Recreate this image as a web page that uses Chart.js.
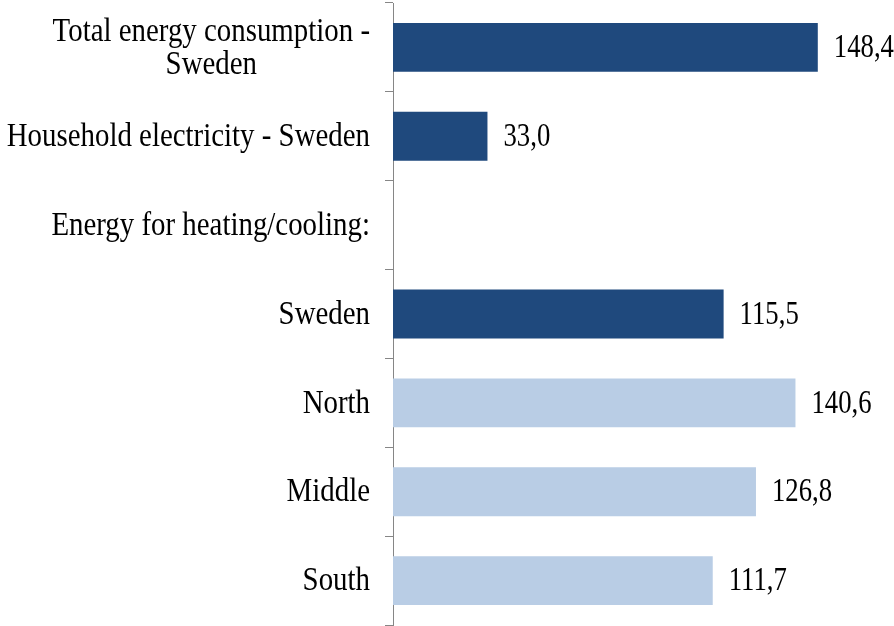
<!DOCTYPE html>
<html>
<head>
<meta charset="utf-8">
<script src="https://cdn.jsdelivr.net/npm/chart.js@4"></script>
<style>
  html, body { margin: 0; padding: 0; background: #fff; }
  canvas { display: block; }
</style>
</head>
<body>
<canvas id="energyChart" width="894" height="626"></canvas>
<script>
// data
var categories = [
    ["Total energy consumption -", "Sweden"],
    "Household electricity - Sweden",
    "Energy for heating/cooling:",
    "Sweden",
    "North",
    "Middle",
    "South"
];
var values = [148.4, 33.0, null, 115.5, 140.6, 126.8, 111.7];
var barColors = ["#1F497D", "#1F497D", "#1F497D", "#1F497D", "#B9CDE5", "#B9CDE5", "#B9CDE5"];

// the source text is a bit narrow and tall, so squeeze it sideways
var labelFont = '33px "Liberation Serif", "Times New Roman", serif';
var labelSqueeze = 0.875;
var valueSqueeze = 0.81;

function drawSqueezed(ctx, text, x, y, align, sx) {
    ctx.save();
    ctx.translate(x, y);
    ctx.scale(sx, 1);
    ctx.textAlign = align;
    ctx.fillText(text, 0, 0);
    ctx.restore();
}

// category labels: multi-line label centred, single lines right aligned
var categoryLabels = {
    id: 'categoryLabels',
    afterDraw: function (chart) {
        var ctx = chart.ctx;
        var scale = chart.scales.y;
        var right = scale.right - 23;
        var lineHeight = 33;
        ctx.save();
        ctx.font = labelFont;
        ctx.fillStyle = '#000';
        ctx.textBaseline = 'middle';
        for (var i = 0; i < categories.length; i++) {
            var y = scale.getPixelForValue(i) + 1;
            var lab = categories[i];
            if (Array.isArray(lab)) {
                var w = 0;
                for (var k = 0; k < lab.length; k++) {
                    w = Math.max(w, ctx.measureText(lab[k]).width * labelSqueeze);
                }
                var y0 = y - (lab.length - 1) * lineHeight / 2;
                for (var k = 0; k < lab.length; k++) {
                    drawSqueezed(ctx, lab[k], right - w / 2, y0 + k * lineHeight, 'center', labelSqueeze);
                }
            } else {
                drawSqueezed(ctx, lab, right, y, 'right', labelSqueeze);
            }
        }
        ctx.restore();
    }
};

// value labels right of each bar, decimal comma
var valueLabels = {
    id: 'valueLabels',
    afterDatasetsDraw: function (chart) {
        var ctx = chart.ctx;
        var meta = chart.getDatasetMeta(0);
        ctx.save();
        ctx.font = labelFont;
        ctx.fillStyle = '#000';
        ctx.textBaseline = 'middle';
        meta.data.forEach(function (bar, i) {
            if (values[i] === null) return;
            drawSqueezed(ctx, values[i].toFixed(1).replace('.', ','), bar.x + 16, bar.y + 1, 'left', valueSqueeze);
        });
        ctx.restore();
    }
};

var ctx = document.getElementById('energyChart');
var myChart = new Chart(ctx, {
    type: 'bar',
    data: {
        labels: categories,
        datasets: [{
            data: values,
            backgroundColor: barColors,
            borderWidth: 0,
            categoryPercentage: 1.0,
            barPercentage: 0.55
        }]
    },
    options: {
        indexAxis: 'y',
        responsive: false,
        animation: false,
        layout: {
            padding: { top: 3, bottom: 1, left: 0, right: 43 }
        },
        plugins: {
            legend: { display: false },
            tooltip: { enabled: false }
        },
        scales: {
            x: {
                display: false,
                min: 0,
                max: 160
            },
            y: {
                afterFit: function (scale) {
                    scale.width = 393;
                },
                ticks: { display: false },
                grid: {
                    drawOnChartArea: false,
                    drawTicks: true,
                    tickLength: 8,
                    color: '#868686',
                    offset: true
                },
                border: {
                    display: true,
                    color: '#868686',
                    width: 1
                }
            }
        }
    },
    plugins: [categoryLabels, valueLabels]
});
</script>
</body>
</html>
